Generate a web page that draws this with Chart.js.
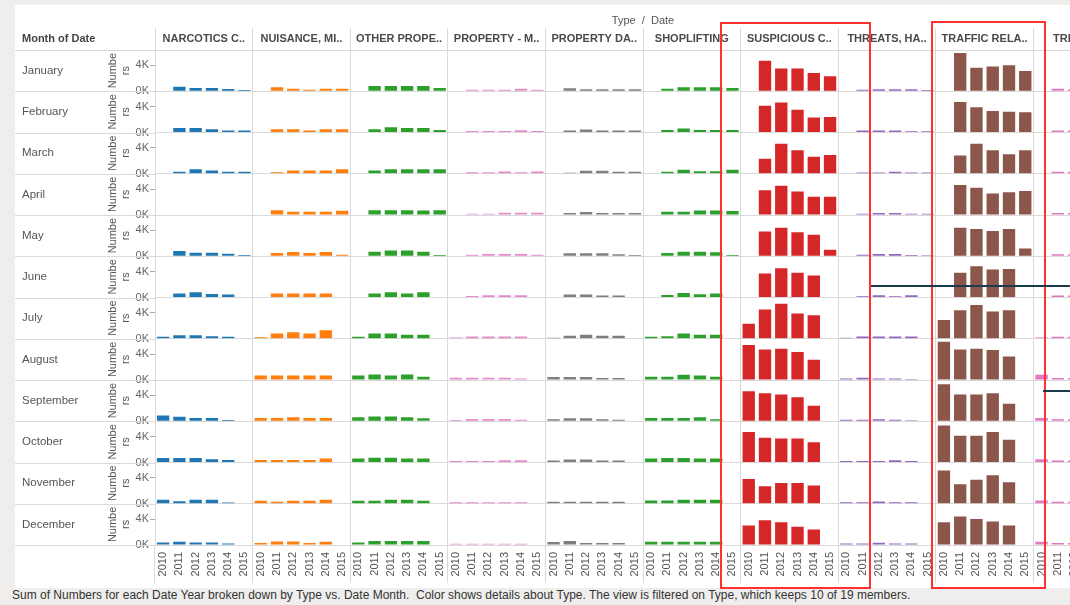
<!DOCTYPE html>
<html>
<head>
<meta charset="utf-8">
<script src="https://cdn.jsdelivr.net/npm/chart.js@4.4.0/dist/chart.umd.min.js"></script>
<style>
  html, body { margin: 0; padding: 0; }
  body { width: 1070px; height: 605px; background: #efeeec; overflow: hidden; position: relative;
         font-family: "Liberation Sans", Arial, sans-serif; }
  #panel { position: absolute; left: 15px; top: 5px; width: 1055px; height: 583px; background: #fff; overflow: hidden; }
  #corner { position: absolute; left: 7px; top: 27px; font-weight: bold; font-size: 11px; color: #444; }
  #caption { position: absolute; left: 12px; top: 588px; font-size: 12px; color: #333; white-space: nowrap; }
  .box { position: absolute; box-sizing: border-box; border: 2px solid #ff3131; }
  .line { position: absolute; height: 2px; background: #1d3a4d; }
</style>
</head>
<body>
<div id="panel">
  <canvas id="grid" width="1116" height="583"></canvas>
  <div id="corner">Month of Date</div>
</div>
<div id="caption">Sum of Numbers for each Date Year broken down by Type vs. Date Month.&nbsp; Color shows details about Type. The view is filtered on Type, which keeps 10 of 19 members.</div>
<div class="box" style="left:720px; top:22px; width:151px; height:567px;"></div>
<div class="box" style="left:931px; top:21px; width:115px; height:568px;"></div>
<div class="line" style="left:871px; top:285px; width:199px;"></div>
<div class="line" style="left:1043px; top:390px; width:27px;"></div>

<script>
// row / column headers
const months = ['January', 'February', 'March', 'April', 'May', 'June',
  'July', 'August', 'September', 'October', 'November', 'December'];
const types = ['NARCOTICS C..', 'NUISANCE, MI..', 'OTHER PROPE..', 'PROPERTY - M..', 'PROPERTY DA..',
  'SHOPLIFTING', 'SUSPICIOUS C..', 'THREATS, HA..', 'TRAFFIC RELA..', 'TRESPASS'];
const years = ['2010', '2011', '2012', '2013', '2014', '2015'];
const typeColors = ['#1f77b4', '#ff7f0e', '#2ca02c', '#e58acb', '#7f7f7f',
  '#2ca02c', '#d62728', '#9467bd', '#8c564b', '#e377c2'];

// thousands of calls, one row per month, one value per year 2010..2015
const narcotics = [
  [null, .7, .5, .5, .35, .2], [null, .7, .7, .5, .3, .3], [null, .3, .7, .5, .3, .3],
  [null, null, null, null, null, null], [null, .8, .55, .55, .4, .2], [null, .6, .8, .55, .45, null],
  [.3, .55, .55, .4, .3, null], [null, null, null, null, null, null], [.9, .7, .5, .5, .2, null],
  [.7, .7, .7, .5, .4, null], [.6, .4, .6, .6, .2, null], [.4, .5, .4, .4, .25, null]
];
const nuisance = [
  [null, .6, .4, .25, .4, .4], [null, .5, .5, .3, .5, .5], [null, .25, .5, .5, .5, .7],
  [null, .75, .5, .5, .5, .65], [null, .5, .65, .5, .65, .25], [null, .6, .6, .6, .6, null],
  [.25, .8, 1.0, .8, 1.3, null], [.7, .7, .7, .7, .7, null], [.5, .5, .6, .5, .5, null],
  [.4, .4, .4, .4, .6, null], [.45, .3, .45, .45, .6, null], [.3, .55, .55, .3, .5, null]
];
const otherProperty = [
  [null, .8, .8, .8, .8, .5], [null, .5, .8, .7, .7, .4], [null, .5, .7, .7, .7, .7],
  [null, .75, .75, .75, .7, .75], [null, .7, .9, .9, .7, .2], [null, .6, .8, .6, .8, null],
  [.3, .8, .8, .6, .6, null], [.7, .85, .7, .85, .5, null], [.6, .75, .75, .6, .45, null],
  [.6, .75, .75, .6, .6, null], [.45, .45, .6, .6, .45, null], [.4, .6, .6, .6, .6, null]
];
const propertyMissing = [
  [null, .25, .25, .25, .4, .25], [null, .25, .25, .25, .35, .25], [null, .25, .25, .35, .25, .35],
  [null, .2, .2, .35, .35, .35], [null, .25, .35, .35, .35, .25], [null, .25, .35, .35, .35, null],
  [.2, .35, .35, .35, .35, null], [.35, .35, .35, .35, .25, null], [.2, .35, .35, .35, .25, null],
  [.25, .25, .25, .35, .35, null], [.25, .25, .25, .25, .25, null], [.2, .2, .2, .2, .2, null]
];
const propertyDamage = [
  [null, .45, .3, .3, .3, .3], [null, .3, .45, .3, .3, .3], [null, .15, .45, .45, .3, .3],
  [null, .3, .45, .3, .3, .3], [null, .45, .45, .45, .3, .2], [null, .45, .45, .3, .3, null],
  [.15, .45, .6, .45, .45, null], [.45, .45, .45, .3, .3, null], [.3, .45, .45, .3, .25, null],
  [.3, .45, .45, .3, .3, null], [.3, .3, .3, .3, .3, null], [.45, .6, .3, .3, .3, null]
];
const shoplifting = [
  [null, .4, .6, .6, .6, .5], [null, .4, .6, .4, .4, .4], [null, .3, .6, .4, .4, .6],
  [null, .5, .5, .7, .7, .6], [null, .5, .7, .7, .6, .2], [null, .4, .7, .5, .6, null],
  [.3, .4, .8, .6, .6, null], [.5, .5, .8, .7, .5, null], [.5, .5, .5, .6, .3, null],
  [.6, .7, .7, .6, .6, null], [.5, .5, .6, .6, .6, null], [.5, .5, .5, .5, .5, null]
];
const suspicious = [
  [null, 4.7, 3.5, 3.5, 2.8, 2.3], [null, 4.1, 4.6, 3.5, 2.3, 2.4], [null, 2.3, 4.6, 3.6, 2.6, 2.9],
  [null, 3.8, 4.5, 3.6, 2.8, 2.8], [null, 3.8, 4.4, 3.7, 3.3, 1.0], [null, 3.7, 4.5, 3.8, 3.4, null],
  [2.3, 4.5, 5.4, 3.9, 3.6, null], [5.4, 4.7, 4.8, 4.3, 3.1, null], [4.6, 4.3, 4.1, 3.7, 2.4, null],
  [4.7, 3.8, 3.7, 3.7, 3.1, null], [3.8, 2.7, 3.2, 3.2, 2.8, null], [3.0, 3.8, 3.5, 2.8, 2.4, null]
];
const threats = [
  [null, .25, .3, .3, .3, .2], [null, .3, .3, .3, .2, .2], [null, .2, .2, .3, .2, .2],
  [null, .2, .3, .3, .2, .2], [null, .25, .35, .35, .2, .15], [null, .2, .35, .2, .35, null],
  [.15, .35, .35, .35, .35, null], [.25, .35, .25, .25, .15, null], [.25, .25, .3, .25, .15, null],
  [.25, .25, .25, .35, .25, null], [.25, .25, .35, .25, .25, null], [.25, .25, .35, .25, .25, null]
];
const traffic = [
  [null, 5.9, 3.6, 3.8, 4.0, 3.1], [null, 4.7, 3.9, 3.3, 3.2, 3.1], [null, 2.8, 4.6, 3.6, 3.0, 3.6],
  [null, 4.6, 4.2, 3.3, 3.5, 3.7], [null, 4.4, 4.2, 3.9, 4.2, 1.2], [null, 3.8, 4.8, 4.3, 4.4, null],
  [2.9, 4.4, 5.2, 4.2, 4.4, null], [5.9, 4.7, 4.8, 4.6, 3.6, null], [5.7, 4.1, 4.1, 4.3, 2.7, null],
  [5.7, 4.1, 4.1, 4.7, 3.5, null], [5.1, 3.0, 3.7, 4.4, 3.3, null], [3.5, 4.4, 4.0, 3.6, 3.0, null]
];
const trespass = [
  [null, .4, .3, .3, .3, .3], [null, .3, .3, .3, .3, .3], [null, .3, .3, .3, .3, .3],
  [null, .3, .3, .3, .3, .3], [null, .3, .3, .3, .3, .2], [null, .3, .3, .3, .3, null],
  [.2, .3, .3, .3, .3, null], [.8, .3, .3, .3, .3, null], [.5, .3, .3, .3, .3, null],
  [.5, .3, .3, .3, .3, null], [.5, .3, .3, .3, .3, null], [.5, .3, .3, .3, .3, null]
];

const typeSeries = [narcotics, nuisance, otherProperty, propertyMissing, propertyDamage,
  shoplifting, suspicious, threats, traffic, trespass];

Chart.defaults.font.family = '"Liberation Sans", Arial, sans-serif';
const gridGrey = '#d9d9d9';

// one x category per type/year pair
const labels = types.flatMap(() => years);
const barColors = types.flatMap((t, i) => years.map(() => typeColors[i]));

const datasets = months.map((m, mi) => ({
  label: m,
  data: typeSeries.flatMap(s => s[mi]),
  backgroundColor: barColors,
  yAxisID: 'y' + mi,
  grouped: false,
  categoryPercentage: 1,
  barPercentage: 0.76
}));

const scales = {
  x: {
    position: 'bottom',
    grid: {
      offset: true, drawOnChartArea: false, tickLength: 38,
      color: c => (c.index !== undefined && c.index % 6 !== 0) ? 'rgba(0,0,0,0)' : gridGrey
    },
    border: { display: false },
    ticks: { autoSkip: false, maxRotation: 90, minRotation: 90, padding: -31, font: { size: 11 }, color: '#555' },
    afterFit: s => { s.height = 43; }
  },
  x2: {
    type: 'category', position: 'top', labels: types, offset: true,
    grid: { offset: true, color: gridGrey, tickLength: 22 },
    border: { display: false },
    ticks: { autoSkip: false, maxRotation: 0, padding: -18, font: { size: 11, weight: 'bold' }, color: '#4a4a4a' },
    title: { display: true, text: 'Type  /  Date', font: { size: 11 }, color: '#555', padding: { top: 9, bottom: 0 } },
    afterFit: s => { s.height = 45; }
  },
  m: {
    type: 'category', position: 'left', labels: months, offset: true, weight: 2,
    grid: { offset: true, color: gridGrey, drawTicks: false },
    border: { display: false },
    ticks: { crossAlign: 'far', font: { size: 11.5 }, color: '#555' },
    afterFit: s => { s.width = 81; }
  }
};

// one small value axis per month row, stacked down the left side.
// the layout puts the last-defined axis on top, so add them December first
for (let i = months.length - 1; i >= 0; i--) {
  scales['y' + i] = {
    type: 'linear', position: 'left', stack: 'rows', stackWeight: 1, weight: 1,
    min: 0, max: 6.35,
    afterBuildTicks: s => { s.ticks = [0, 2, 4].map(v => ({ value: v })); },
    grid: {
      drawOnChartArea: false, tickLength: 5,
      color: c => (c.tick && c.tick.value === 0) ? 'rgba(0,0,0,0)' : '#aaa'
    },
    border: { display: false },
    ticks: { padding: 1, font: { size: 11 }, color: '#666', callback: v => v === 2 ? '' : v + 'K' },
    title: { display: true, text: ['Numbe', 'rs'], font: { size: 11 }, color: '#555', padding: { top: 3, bottom: 0 } },
    afterFit: s => { s.width = 52; }
  };
}

// carry the row separators across the month header area
const rowLines = {
  id: 'rowLines',
  beforeDatasetsDraw(chart) {
    const s = chart.scales.m;
    const ctx = chart.ctx;
    ctx.save();
    ctx.strokeStyle = gridGrey;
    ctx.lineWidth = 1;
    for (let i = 0; i <= months.length; i++) {
      const y = Math.round(s.getPixelForValue(i - 0.5)) + 0.5;
      ctx.beginPath();
      ctx.moveTo(0, y);
      ctx.lineTo(chart.chartArea.left, y);
      ctx.stroke();
    }
    ctx.restore();
  }
};

new Chart(document.getElementById('grid').getContext('2d'), {
  type: 'bar',
  data: { labels: labels, datasets: datasets },
  options: {
    responsive: false,
    animation: false,
    layout: { padding: { left: 7, right: 0, top: 0, bottom: 0 } },
    plugins: { legend: { display: false }, tooltip: { enabled: false } },
    scales: scales
  },
  plugins: [rowLines]
});
</script>
</body>
</html>
